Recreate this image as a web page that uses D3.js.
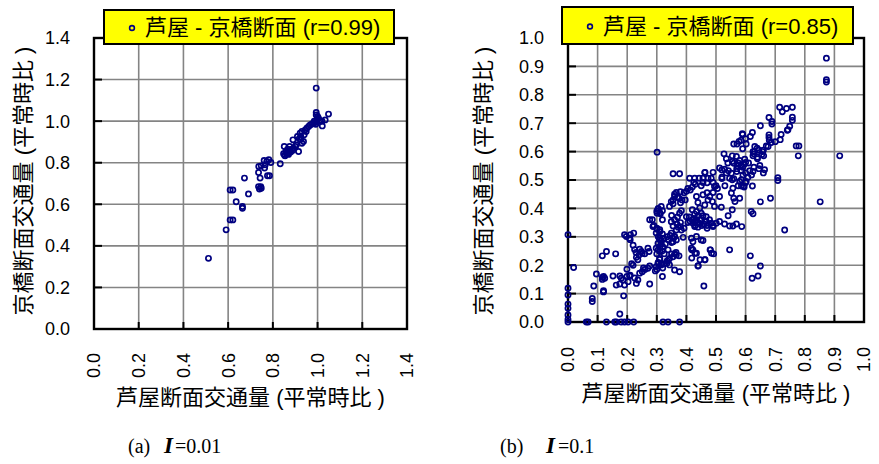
<!DOCTYPE html>
<html>
<head>
<meta charset="utf-8">
<script src="https://cdn.jsdelivr.net/npm/d3@7"></script>
<style>
  body { margin: 0; background: #fff; }
  svg { display: block; }
</style>
</head>
<body>
<svg id="fig" width="879" height="464"></svg>
<script>
// Tick values of the two scatter panels
const ticksA = [0.0, 0.2, 0.4, 0.6, 0.8, 1.0, 1.2, 1.4];
const ticksB = [0.0, 0.1, 0.2, 0.3, 0.4, 0.5, 0.6, 0.7, 0.8, 0.9, 1.0];

// Axis titles, legend entries and captions
const xTitle = "芦屋断面交通量 (平常時比 )";
const yTitle = "京橋断面交通量 (平常時比 )";
const legendA = "芦屋 - 京橋断面 (r=0.99)";
const legendB = "芦屋 - 京橋断面 (r=0.85)";
const captionA = ["(a)", "I", "=0.01"];
const captionB = ["(b)", "I", "=0.1"];

// Panel (a): [芦屋, 京橋] traffic ratios for λ = 0.01
const pointsA = [
  [0.512,0.340],[0.591,0.477],[0.609,0.525],[0.621,0.525],[0.609,0.669],[0.621,0.669],
  [0.636,0.612],[0.664,0.589],[0.664,0.581],[0.673,0.726],[0.691,0.650],[0.736,0.685],
  [0.746,0.685],[0.740,0.673],[0.748,0.677],[0.736,0.753],[0.743,0.726],[0.737,0.782],
  [0.748,0.785],[0.761,0.811],[0.766,0.790],[0.773,0.806],[0.782,0.814],[0.791,0.801],
  [0.763,0.774],[0.776,0.737],[0.785,0.737],[0.833,0.795],[0.851,0.878],[0.848,0.843],
  [0.855,0.833],[0.863,0.843],[0.872,0.849],[0.878,0.859],[0.866,0.865],[0.875,0.878],
  [0.885,0.865],[0.893,0.870],[0.900,0.878],[0.890,0.910],[0.915,0.854],[0.910,0.926],
  [0.922,0.942],[0.930,0.950],[0.940,0.934],[0.930,0.894],[0.937,0.902],[0.949,0.950],
  [0.952,0.966],[0.960,0.974],[0.967,0.982],[0.975,0.986],[0.982,0.990],[0.990,0.994],
  [0.997,1.006],[1.004,1.014],[0.994,1.030],[0.994,1.042],[1.000,1.022],[1.009,1.003],
  [1.021,0.977],[1.034,1.006],[1.049,1.034],[0.994,1.159],[0.853,0.835],[0.858,0.852],
  [0.870,0.840],[0.880,0.852],[0.890,0.860],[0.905,0.885],[0.918,0.915],[0.925,0.925],
  [0.945,0.958],[0.985,1.000],[0.992,0.985],[1.012,1.000],[1.020,1.000],[0.925,0.912]
];

// Panel (b): [芦屋, 京橋] traffic ratios for λ = 0.1
const pointsB = [
  [0.873,0.929],[0.873,0.853],[0.873,0.845],[0.918,0.585],[0.852,0.423],[0.732,0.324],
  [0.717,0.642],[0.771,0.620],[0.780,0.620],[0.778,0.585],[0.709,0.508],[0.709,0.498],
  [0.684,0.436],[0.650,0.423],[0.616,0.233],[0.650,0.197],[0.622,0.154],[0.642,0.162],
  [0.715,0.756],[0.738,0.752],[0.758,0.756],[0.724,0.740],[0.758,0.721],[0.758,0.710],
  [0.749,0.689],[0.743,0.677],[0.741,0.675],[0.679,0.720],[0.689,0.706],[0.689,0.697],
  [0.650,0.691],[0.679,0.659],[0.679,0.650],[0.687,0.632],[0.676,0.618],[0.623,0.667],
  [0.616,0.653],[0.589,0.663],[0.578,0.636],[0.560,0.627],[0.571,0.627],[0.602,0.627],
  [0.631,0.618],[0.639,0.612],[0.625,0.600],[0.628,0.592],[0.657,0.600],[0.661,0.585],
  [0.527,0.592],[0.555,0.585],[0.569,0.583],[0.560,0.559],[0.580,0.569],[0.597,0.573],
  [0.600,0.562],[0.512,0.542],[0.529,0.538],[0.542,0.533],[0.552,0.524],[0.546,0.506],
  [0.555,0.501],[0.586,0.533],[0.591,0.518],[0.586,0.501],[0.614,0.533],[0.620,0.518],
  [0.608,0.510],[0.602,0.495],[0.648,0.551],[0.664,0.536],[0.586,0.479],[0.594,0.479],
  [0.623,0.479],[0.557,0.471],[0.552,0.454],[0.560,0.436],[0.564,0.424],[0.580,0.436],
  [0.555,0.395],[0.541,0.374],[0.619,0.389],[0.625,0.381],[0.529,0.345],[0.546,0.338],
  [0.557,0.338],[0.569,0.345],[0.587,0.336],
  [0.590,0.660],[0.600,0.645],[0.585,0.640],[0.590,0.610],[0.680,0.640],[0.700,0.635],
  [0.720,0.660],[0.630,0.600],[0.645,0.605],[0.655,0.590],[0.640,0.575],[0.625,0.585],
  [0.535,0.575],[0.555,0.565],[0.575,0.560],[0.595,0.555],[0.590,0.545],[0.570,0.540],
  [0.520,0.535],[0.535,0.525],[0.570,0.530],[0.600,0.525],[0.625,0.530],[0.645,0.540],
  [0.660,0.525],[0.520,0.505],[0.560,0.505],[0.580,0.495],[0.600,0.490],[0.575,0.480],
  [0.595,0.475],
  [0.355,0.522],[0.377,0.522],[0.411,0.506],[0.428,0.506],[0.443,0.506],[0.456,0.506],
  [0.473,0.506],[0.484,0.506],[0.462,0.526],[0.425,0.491],[0.456,0.491],[0.490,0.491],
  [0.495,0.477],[0.413,0.465],[0.420,0.475],[0.366,0.456],[0.380,0.459],[0.360,0.442],
  [0.375,0.436],[0.385,0.430],[0.396,0.430],[0.349,0.424],[0.343,0.407],[0.355,0.416],
  [0.383,0.392],[0.377,0.383],[0.434,0.442],[0.456,0.448],[0.479,0.442],[0.490,0.456],
  [0.473,0.430],[0.488,0.424],[0.495,0.407],[0.512,0.442],[0.518,0.404],[0.439,0.421],
  [0.462,0.412],[0.445,0.401],[0.434,0.389],[0.450,0.383],[0.467,0.371],[0.445,0.360],
  [0.456,0.374],[0.315,0.407],[0.304,0.397],[0.301,0.383],[0.312,0.381],[0.319,0.392],
  [0.319,0.360],[0.349,0.353],[0.276,0.360],[0.287,0.336],[0.301,0.327],[0.310,0.318],
  [0.319,0.310],[0.298,0.313],[0.355,0.338],[0.372,0.334],[0.380,0.336],[0.383,0.324],
  [0.400,0.371],[0.413,0.354],[0.422,0.348],[0.428,0.336],[0.439,0.334],[0.434,0.360],
  [0.467,0.354],[0.484,0.348],[0.490,0.336],[0.501,0.348],[0.512,0.354],[0.349,0.313],
  [0.366,0.324],[0.360,0.301],[0.355,0.283],[0.366,0.289],[0.389,0.298],[0.310,0.295],
  [0.304,0.277],[0.298,0.260],[0.310,0.248],[0.315,0.287],[0.323,0.295],[0.310,0.224],
  [0.304,0.207],[0.298,0.195],[0.315,0.201],[0.334,0.207],[0.343,0.201],[0.343,0.224],
  [0.355,0.230],[0.366,0.236],[0.375,0.233],[0.338,0.254],[0.417,0.295],[0.434,0.301],
  [0.422,0.283],[0.450,0.289],[0.456,0.287],[0.417,0.260],[0.422,0.254],[0.434,0.242],
  [0.481,0.254],[0.492,0.240],[0.462,0.219],[0.439,0.197],[0.459,0.127],[0.546,0.254],
  [0.360,0.183],[0.377,0.177],[0.319,0.160],[0.276,0.197],[0.270,0.189],[0.301,0.598],
  [0.420,0.395],[0.428,0.380],[0.436,0.350],[0.445,0.345],[0.452,0.340],[0.425,0.365],
  [0.440,0.375],[0.470,0.340],[0.478,0.360],[0.405,0.350],[0.320,0.265],[0.318,0.250],
  [0.325,0.240],[0.329,0.275],[0.335,0.300],[0.340,0.290],[0.368,0.345],[0.392,0.330],
  [0.400,0.460],[0.405,0.470],[0.392,0.455],[0.500,0.480],[0.505,0.470],[0.470,0.455],
  [0.530,0.480],[0.520,0.510],[0.540,0.560],[0.572,0.550],[0.585,0.552],[0.610,0.560],
  [0.628,0.545],[0.640,0.580],[0.660,0.605],[0.670,0.620],
  [0.463,0.527],[0.490,0.527],[0.430,0.485],[0.450,0.480],[0.470,0.490],[0.360,0.450],
  [0.370,0.440],[0.355,0.430],[0.380,0.420],[0.305,0.400],[0.300,0.390],[0.310,0.385],
  [0.285,0.360],[0.290,0.340],[0.300,0.330],[0.310,0.325],[0.350,0.375],[0.360,0.360],
  [0.370,0.370],[0.380,0.350],[0.410,0.370],[0.420,0.360],[0.430,0.355],[0.440,0.350],
  [0.450,0.360],[0.430,0.340],[0.460,0.345],[0.470,0.330],[0.490,0.340],
  [0.210,0.290],[0.220,0.270],[0.225,0.255],[0.230,0.245],[0.215,0.205],[0.220,0.200],
  [0.210,0.165],[0.225,0.155],[0.260,0.185],[0.255,0.190],[0.305,0.300],[0.310,0.290],
  [0.315,0.275],[0.310,0.265],[0.305,0.255],[0.300,0.240],[0.310,0.220],[0.305,0.210],
  [0.315,0.205],[0.325,0.205],[0.320,0.190],[0.300,0.185],[0.295,0.180],[0.345,0.305],
  [0.355,0.295],[0.360,0.300],[0.350,0.280],[0.360,0.240],[0.350,0.240],[0.365,0.245],
  [0.340,0.220],[0.335,0.215],[0.418,0.254],[0.429,0.242],[0.418,0.225],[0.446,0.219],
  [0.480,0.254],[0.485,0.242],[0.463,0.219],[0.440,0.198],
  [0.000,0.307],[0.191,0.307],[0.197,0.301],[0.211,0.307],[0.222,0.313],[0.208,0.295],
  [0.019,0.192],[0.116,0.233],[0.130,0.248],[0.161,0.240],[0.242,0.256],[0.248,0.248],
  [0.240,0.236],[0.231,0.228],[0.236,0.219],[0.251,0.242],[0.259,0.240],[0.270,0.260],
  [0.274,0.248],[0.096,0.169],[0.116,0.157],[0.120,0.160],[0.116,0.150],[0.124,0.154],
  [0.152,0.162],[0.175,0.162],[0.180,0.154],[0.199,0.160],[0.208,0.162],[0.199,0.186],
  [0.163,0.130],[0.175,0.134],[0.191,0.130],[0.203,0.142],[0.186,0.148],[0.231,0.136],
  [0.236,0.148],[0.242,0.172],[0.251,0.177],[0.276,0.134],[0.087,0.127],[0.120,0.110],
  [0.120,0.106],[0.082,0.083],[0.082,0.072],[0.188,0.092],[0.175,0.028],
  [0.000,0.119],[0.000,0.095],[0.000,0.063],[0.000,0.048],[0.000,0.025],[0.000,0.009],
  [0.000,0.000],[0.062,0.000],[0.068,0.000],[0.130,0.000],[0.158,0.000],[0.163,0.000],
  [0.180,0.000],[0.191,0.000],[0.203,0.000],[0.222,0.000],[0.321,0.000],[0.338,0.000],
  [0.377,0.000]
];

const panels = [
  { points: pointsA, ticks: ticksA, max: 1.4, legend: legendA, caption: captionA,
    frame: { left: 94, right: 407, top: 38, bottom: 329 },
    key: { x: 104, y: 10, w: 290, h: 34 },
    yTitleX: 23, xTitleY: 405, tickLabelY: 353, capX: [128, 164, 175] },
  { points: pointsB, ticks: ticksB, max: 1.0, legend: legendB, caption: captionB,
    frame: { left: 568, right: 864, top: 38, bottom: 322 },
    key: { x: 562, y: 7, w: 291, h: 37 },
    yTitleX: 483, xTitleY: 401, tickLabelY: 347, capX: [500, 546, 558] }
];

const svg = d3.select("#fig");
const sans = "'Liberation Sans', Arial, 'Noto Sans CJK JP', sans-serif";
const serif = "'Liberation Serif', 'Times New Roman', serif";
const fmt = d3.format(".1f");

panels.forEach(p => {
  const f = p.frame;
  const x = d3.scaleLinear().domain([0, p.max]).range([f.left, f.right]);
  const y = d3.scaleLinear().domain([0, p.max]).range([f.bottom, f.top]);
  const g = svg.append("g");

  // grid
  g.append("g").selectAll("line").data(p.ticks.slice(1, -1)).join("line")
    .attr("x1", d => x(d)).attr("x2", d => x(d))
    .attr("y1", f.top).attr("y2", f.bottom)
    .attr("stroke", "#848484").attr("stroke-width", 1.6);
  g.append("g").selectAll("line").data(p.ticks.slice(1, -1)).join("line")
    .attr("y1", d => y(d)).attr("y2", d => y(d))
    .attr("x1", f.left).attr("x2", f.right)
    .attr("stroke", "#848484").attr("stroke-width", 1.6);

  // inward tick marks
  g.append("g").selectAll("line").data(p.ticks).join("line")
    .attr("x1", f.left).attr("x2", f.left + 8)
    .attr("y1", d => y(d)).attr("y2", d => y(d))
    .attr("stroke", "#000").attr("stroke-width", 2);
  g.append("g").selectAll("line").data(p.ticks).join("line")
    .attr("x1", d => x(d)).attr("x2", d => x(d))
    .attr("y1", f.bottom).attr("y2", f.bottom - 7)
    .attr("stroke", "#000").attr("stroke-width", 2);

  // frame
  g.append("rect")
    .attr("x", f.left).attr("y", f.top)
    .attr("width", f.right - f.left).attr("height", f.bottom - f.top)
    .attr("fill", "none").attr("stroke", "#000").attr("stroke-width", 2.4);

  // points
  g.append("g").selectAll("circle").data(p.points).join("circle")
    .attr("cx", d => x(d[0])).attr("cy", d => y(d[1])).attr("r", 2.6)
    .attr("fill", "none").attr("stroke", "#000080").attr("stroke-width", 1.7);

  // y tick labels
  g.append("g").selectAll("text").data(p.ticks).join("text")
    .attr("x", f.left - 24).attr("y", d => y(d)).attr("dy", "0.36em")
    .attr("text-anchor", "end")
    .style("font-family", sans).style("font-size", "18px").attr("fill", "#000")
    .text(d => fmt(d));

  // x tick labels (rotated)
  g.append("g").selectAll("text").data(p.ticks).join("text")
    .attr("transform", d => `translate(${x(d)},${p.tickLabelY}) rotate(-90)`)
    .attr("dy", "0.36em").attr("text-anchor", "end")
    .style("font-family", sans).style("font-size", "18px").attr("fill", "#000")
    .text(d => fmt(d));

  // axis titles
  g.append("text")
    .attr("x", (f.left + f.right) / 2).attr("y", p.xTitleY)
    .attr("text-anchor", "middle")
    .style("font-family", sans).style("font-size", "22px").attr("fill", "#000")
    .text(xTitle);
  g.append("text")
    .attr("transform", `translate(${p.yTitleX},181) rotate(-90)`)
    .attr("dy", "0.36em").attr("text-anchor", "middle")
    .style("font-family", sans).style("font-size", "22px").attr("fill", "#000")
    .text(yTitle);

  // legend
  const k = p.key;
  g.append("rect").attr("x", k.x).attr("y", k.y).attr("width", k.w).attr("height", k.h)
    .attr("fill", "#ffff00").attr("stroke", "#000").attr("stroke-width", 2);
  g.append("circle").attr("cx", k.x + 28).attr("cy", k.y + k.h / 2 + 1).attr("r", 2.4)
    .attr("fill", "none").attr("stroke", "#000080").attr("stroke-width", 1.6);
  g.append("text").attr("x", k.x + 41).attr("y", k.y + k.h / 2 + 8)
    .style("font-family", sans).style("font-size", "22px").attr("fill", "#000")
    .text(p.legend);

  // caption
  const cap = g.append("text").attr("y", 453)
    .style("font-family", serif).style("font-size", "20px").attr("fill", "#000");
  cap.append("tspan").attr("x", p.capX[0]).text(p.caption[0]);
  cap.append("tspan").attr("x", p.capX[1]).style("font-weight", "bold")
    .style("font-style", "italic").style("font-size", "23px").text(p.caption[1]);
  cap.append("tspan").attr("x", p.capX[2]).text(p.caption[2]);
});
</script>
</body>
</html>
